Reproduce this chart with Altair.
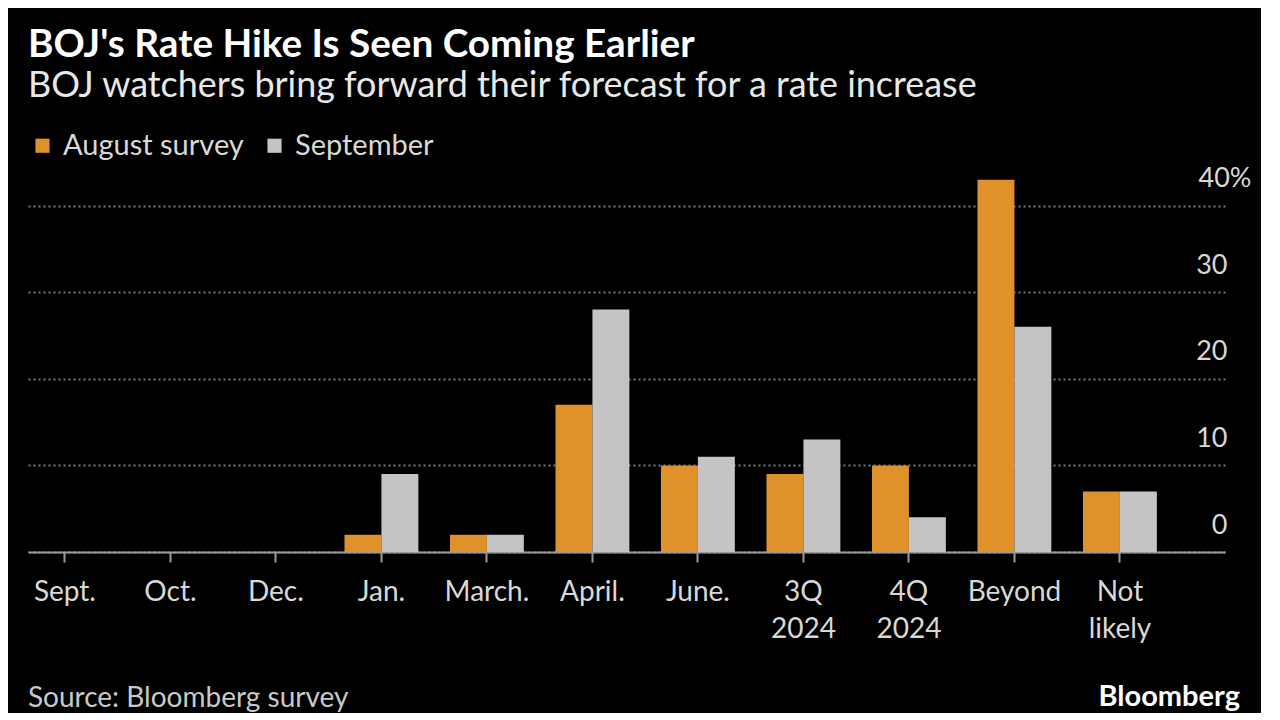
import altair as alt
import pandas as pd

categories = ["Sept.", "Oct.", "Dec.", "Jan.", "March.", "April.", "June.",
              "3Q 2024", "4Q 2024", "Beyond", "Not likely"]
august = [0, 0, 0, 2, 2, 17, 10, 9, 10, 43, 7]
september = [0, 0, 0, 9, 2, 28, 11, 13, 4, 26, 7]
series = ["August survey", "September"]
y_ticks = [0, 10, 20, 30, 40]

rows = []
for c, a, s in zip(categories, august, september):
    rows.append({"cat": c, "series": series[0], "val": a})
    rows.append({"cat": c, "series": series[1], "val": s})
df = pd.DataFrame(rows)

FONT = "Lato"
W, H = 1197, 381

bars = alt.Chart(df).mark_bar().encode(
    x=alt.X("cat:N", sort=categories,
            scale=alt.Scale(paddingInner=0.3, paddingOuter=0.323, align=0),
            axis=alt.Axis(title=None, labelAngle=0, labelExpr="split(datum.label, ' ')",
                          labelFontSize=28, labelColor="#D8D8D8", labelFont=FONT,
                          labelLineHeight=37, labelPadding=16, labelBaseline="top",
                          domainColor="#9A9A9A", domainWidth=2,
                          tickColor="#9A9A9A", tickWidth=2, tickSize=10,
                          grid=False)),
    xOffset=alt.XOffset("series:N", sort=series, scale=alt.Scale(paddingInner=0, paddingOuter=0)),
    y=alt.Y("val:Q", scale=alt.Scale(domain=[0, 44], nice=False),
            axis=alt.Axis(title=None, orient="right", values=y_ticks,
                          labelExpr="datum.value == 40 ? '40%' : datum.label",
                          labelAlign="right", labelBaseline="alphabetic",
                          labelOffset=-19,
                          labelPadding={"condition": {"test": "datum.value == 40", "value": 26}, "value": 2},
                          labelFontSize=27, labelColor="#D8D8D8", labelFont=FONT,
                          domain=False, ticks=False,
                          grid=True, gridColor="#7A7A7A", gridDash=[2, 3], gridWidth=2)),
    color=alt.Color("series:N", sort=series,
                    scale=alt.Scale(domain=series, range=["#E0912A", "#C4C4C4"]),
                    legend=alt.Legend(title=None, orient="none", legendX=0, legendY=-40,
                                      padding=0, direction="horizontal", symbolType="square",
                                      symbolSize=200, symbolStrokeWidth=0,
                                      labelFontSize=29, labelColor="#D8D8D8", labelFont=FONT,
                                      labelLimit=0, columnPadding=16, labelOffset=6)),
)

src = alt.Chart(pd.DataFrame({"t": ["Source: Bloomberg survey"]})).mark_text(
    align="left", baseline="middle", fontSize=28, font=FONT, color="#C8C8C8"
).encode(text="t:N", x=alt.value(0), y=alt.value(528))

logo = alt.Chart(pd.DataFrame({"t": ["Bloomberg"]})).mark_text(
    align="right", baseline="middle", fontSize=29, font=FONT, fontWeight="bold", color="#FFFFFF"
).encode(text="t:N", x=alt.value(1212), y=alt.value(526))

chart = alt.layer(bars, src, logo).properties(
    width=W, height=H,
    background="#000000",
    padding={"left": 20, "top": 18, "right": 10, "bottom": 0},
    title=alt.TitleParams(
        text="BOJ's Rate Hike Is Seen Coming Earlier",
        subtitle="BOJ watchers bring forward their forecast for a rate increase",
        anchor="start", frame="group", font=FONT, fontSize=38.7, fontWeight="bold",
        color="#FFFFFF", subtitleFont=FONT, subtitleFontSize=35.9, subtitleColor="#E8E8E8",
        subtitlePadding=4, offset=27,
    ),
).configure_view(stroke=None)

chart.save("out.html", embed_options={"renderer": "svg", "actions": False})
